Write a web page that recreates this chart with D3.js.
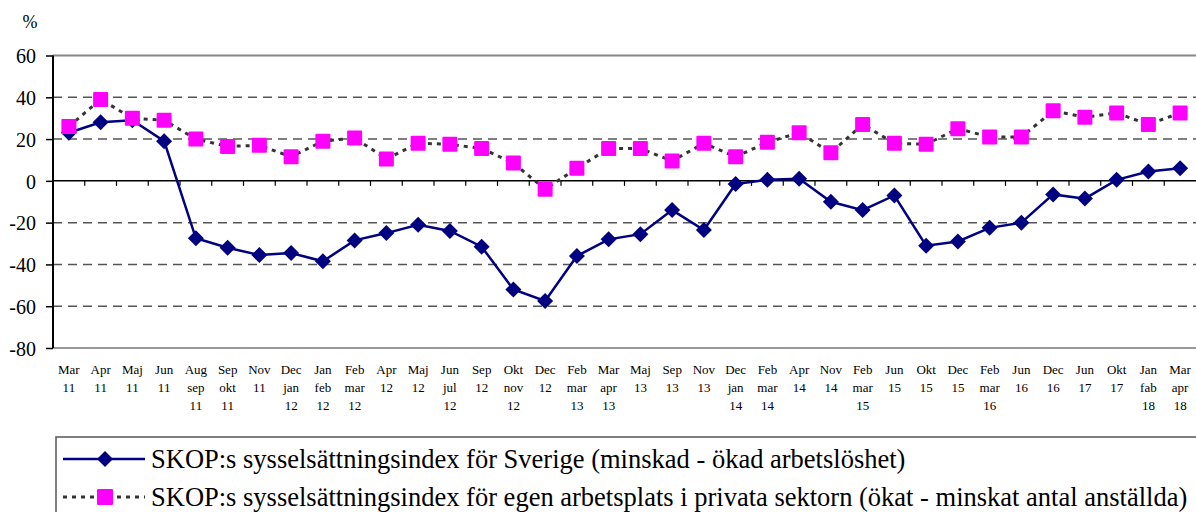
<!DOCTYPE html>
<html><head><meta charset="utf-8">
<script src="https://cdn.jsdelivr.net/npm/d3@7"></script>
<style>
html,body{margin:0;padding:0;background:#fff;}
svg{display:block;}
</style></head>
<body>
<svg id="c" width="1196" height="512"></svg>
<script>
const categories = ["Mar\n11","Apr\n11","Maj\n11","Jun\n11","Aug\nsep\n11","Sep\nokt\n11","Nov\n11","Dec\njan\n12","Jan\nfeb\n12","Feb\nmar\n12","Apr\n12","Maj\n12","Jun\njul\n12","Sep\n12","Okt\nnov\n12","Dec\n12","Feb\nmar\n13","Mar\napr\n13","Maj\n13","Sep\n13","Nov\n13","Dec\njan\n14","Feb\nmar\n14","Apr\n14","Nov\n14","Feb\nmar\n15","Jun\n15","Okt\n15","Dec\n15","Feb\nmar\n16","Jun\n16","Dec\n16","Jun\n17","Okt\n17","Jan\nfab\n18","Mar\napr\n18"];
const sverige = [23,28,29,19,-27.5,-32,-35.5,-34.5,-38.5,-28.5,-25,-21,-24,-31.5,-52,-57.5,-36,-28,-25.5,-14,-23.5,-1.5,0.5,1,-10,-14,-7,-31,-29,-22.5,-20,-6.5,-8.5,0.5,4.5,6];
const privat = [26,39,30,29,20,16.5,17,11.5,19,20.5,10.5,18,17.5,15.5,8.5,-4,6,15.5,15.5,9.5,18,11.5,18.5,23,13.5,27,18,17.5,25,21,21,33.5,30.5,32.5,27,32.5];
const yTicks = [60,40,20,0,-20,-40,-60,-80];
const legendLabels = ["SKOP:s sysselsättningsindex för Sverige (minskad - ökad arbetslöshet)","SKOP:s sysselsättningsindex för egen arbetsplats i privata sektorn (ökat - minskat antal anställda)"];

const FONT = "'Liberation Serif'";
const svg = d3.select("#c");
const x = d3.scaleBand().domain(categories).range([53,1196]).padding(0);
const y = d3.scaleLinear().domain([-80,60]).range([348,55.5]);
const cx = d => x(d) + x.bandwidth()/2;

// gridlines
svg.append("g").selectAll("line").data(yTicks.filter(v=>v!==0 && v!==60 && v!==-80)).join("line")
  .attr("x1",53).attr("x2",1196).attr("y1",d=>y(d)).attr("y2",d=>y(d))
  .attr("stroke","#555").attr("stroke-width",1.5).attr("stroke-dasharray","9,6");
svg.append("line").attr("x1",53).attr("x2",1196).attr("y1",y(60)).attr("y2",y(60)).attr("stroke","#888").attr("stroke-width",2);
svg.append("line").attr("x1",53).attr("x2",1196).attr("y1",y(-80)).attr("y2",y(-80)).attr("stroke","#999").attr("stroke-width",2);

// y axis
const yAxis = svg.append("g").attr("transform","translate(53,0)")
  .call(d3.axisLeft(y).tickValues(yTicks).tickSize(7).tickPadding(10).tickFormat(d3.format("d")));
yAxis.attr("font-family",null).attr("font-size",null);
yAxis.select(".domain").attr("stroke","#000").attr("stroke-width",2).attr("d","M0,"+y(60)+"V"+y(-80));
yAxis.selectAll(".tick line").attr("stroke","#000").attr("stroke-width",1.5);
yAxis.selectAll(".tick text").style("font-family",FONT).style("font-size","20px").attr("fill","#000").attr("dy","0.36em")
  .text(d=>String(d));

// x axis at zero
const xAxis = svg.append("g").attr("transform","translate(0,"+y(0)+")");
xAxis.append("line").attr("x1",53).attr("x2",1196).attr("stroke","#000").attr("stroke-width",1.5);
xAxis.selectAll("line.t").data(categories.slice(1)).join("line").attr("class","t")
  .attr("x1",d=>x(d)).attr("x2",d=>x(d)).attr("y1",0).attr("y2",5).attr("stroke","#000").attr("stroke-width",1.2);

// x labels
const lab = svg.append("g");
categories.forEach(c=>{
  const t = lab.append("text").attr("text-anchor","middle").style("font-family",FONT).style("font-size","13px").attr("x",cx(c)).attr("y",373.5);
  c.split("\n").forEach((s,i)=>t.append("tspan").attr("x",cx(c)).attr("dy",i===0?0:18).text(s));
});

svg.append("text").attr("x",30).attr("y",28).attr("text-anchor","middle").style("font-family",FONT).style("font-size","18px").text("%");

// series 1
const line = d3.line().x((d,i)=>cx(categories[i])).y(d=>y(d));
svg.append("path").attr("d",line(sverige)).attr("fill","none").attr("stroke","#000080").attr("stroke-width",2.5);
const diamond = "M0,-8L8,0L0,8L-8,0Z";
svg.append("g").selectAll("path").data(sverige).join("path")
  .attr("d",diamond).attr("transform",(d,i)=>`translate(${cx(categories[i])},${y(d)})`).attr("fill","#000080");

// series 2
svg.append("path").attr("d",line(privat)).attr("fill","none").attr("stroke","#333").attr("stroke-width",3).attr("stroke-dasharray","4,5");
svg.append("g").selectAll("rect").data(privat).join("rect")
  .attr("x",(d,i)=>cx(categories[i])-7.5).attr("y",d=>y(d)-7.5).attr("width",15).attr("height",15).attr("rx",1)
  .attr("fill","#ff00ff");

// legend
const lg = svg.append("g");
lg.append("rect").attr("x",56).attr("y",437).attr("width",1150).attr("height",80).attr("fill","#fff").attr("stroke","#555").attr("stroke-width",1.5);
const ly = [459, 497];
lg.append("line").attr("x1",63).attr("x2",145).attr("y1",ly[0]).attr("y2",ly[0]).attr("stroke","#000080").attr("stroke-width",2.5);
lg.append("path").attr("d",diamond).attr("transform",`translate(105,${ly[0]})`).attr("fill","#000080");
lg.append("line").attr("x1",63).attr("x2",145).attr("y1",ly[1]).attr("y2",ly[1]).attr("stroke","#333").attr("stroke-width",3).attr("stroke-dasharray","4,5");
lg.append("rect").attr("x",97).attr("y",ly[1]-8).attr("width",16).attr("height",16).attr("rx",1).attr("fill","#ff00ff");
legendLabels.forEach((t,i)=>{
  lg.append("text").attr("x",151).attr("y",ly[i]).attr("dy","0.35em").style("font-family",FONT).style("font-size","26.5px").text(t);
});
</script>
</body></html>
